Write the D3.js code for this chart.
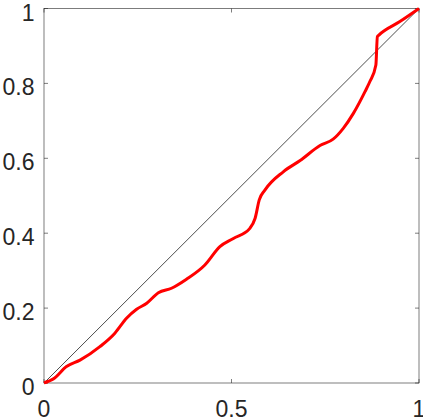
<!DOCTYPE html>
<html><head><meta charset="utf-8">
<script src="https://cdn.jsdelivr.net/npm/d3@7"></script>
<style>body{margin:0;background:#fff}svg{display:block}</style>
</head><body>
<script>
const curveX = [0, 0.01, 0.025, 0.06, 0.096, 0.149, 0.189, 0.22, 0.247, 0.274, 0.305, 0.34, 0.38, 0.429, 0.469, 0.505, 0.549, 0.563, 0.574, 0.589, 0.638, 0.683, 0.736, 0.771, 0.798, 0.825, 0.856, 0.869, 0.885, 0.889, 0.893, 0.949, 1];
const curveY = [0, 0.004, 0.011, 0.044, 0.061, 0.097, 0.133, 0.173, 0.197, 0.213, 0.241, 0.253, 0.277, 0.315, 0.364, 0.386, 0.413, 0.44, 0.489, 0.515, 0.564, 0.594, 0.634, 0.651, 0.68, 0.72, 0.778, 0.805, 0.849, 0.925, 0.929, 0.965, 1];
const diagX = [0, 1];
const diagY = [0, 1];
const xTicks = [0, 0.5, 1];
const yTicks = [0, 0.2, 0.4, 0.6, 0.8, 1];

const W = 423, H = 419;
const L = 44, R = 419, T = 8.5, B = 383;
const svg = d3.select("body").append("svg").attr("width", W).attr("height", H);
const x = d3.scaleLinear().domain([0, 1]).range([L, R]);
const y = d3.scaleLinear().domain([0, 1]).range([B, T]);
const axCol = "#262626";
const font = "'Liberation Sans', Arial, sans-serif";

// box
svg.append("rect").attr("x", L).attr("y", T).attr("width", R - L).attr("height", B - T)
  .attr("fill", "none").attr("stroke", axCol).attr("stroke-width", 0.6);

// ticks
const tl = 4;
const g = svg.append("g").attr("stroke", axCol).attr("stroke-width", 0.6);
xTicks.forEach(t => {
  g.append("line").attr("x1", x(t)).attr("x2", x(t)).attr("y1", B).attr("y2", B - tl);
  g.append("line").attr("x1", x(t)).attr("x2", x(t)).attr("y1", T).attr("y2", T + tl);
});
yTicks.forEach(t => {
  g.append("line").attr("x1", L).attr("x2", L + tl).attr("y1", y(t)).attr("y2", y(t));
  g.append("line").attr("x1", R).attr("x2", R - tl).attr("y1", y(t)).attr("y2", y(t));
});

// labels
svg.selectAll(".xl").data(xTicks).enter().append("text")
  .attr("x", d => x(d)).attr("y", 417).attr("text-anchor", "middle")
  .attr("font-family", font).attr("font-size", 23).attr("fill", axCol)
  .text(d => d3.format("")(d));
svg.selectAll(".yl").data(yTicks).enter().append("text")
  .attr("x", 34.5).attr("y", d => y(d) + 12).attr("text-anchor", "end")
  .attr("font-family", font).attr("font-size", 23).attr("fill", axCol)
  .text(d => d3.format("")(d));

// diagonal
const line = d3.line().x(d => x(d[0])).y(d => y(d[1]));
svg.append("path").datum(diagX.map((v, i) => [v, diagY[i]]))
  .attr("d", line).attr("fill", "none").attr("stroke", "#000").attr("stroke-width", 0.7);

// red curve
svg.append("path").datum(curveX.map((v, i) => [v, curveY[i]]))
  .attr("d", line.curve(d3.curveMonotoneX)).attr("fill", "none").attr("stroke", "#ff0000")
  .attr("stroke-width", 3).attr("stroke-linejoin", "round");
</script>
</body></html>
